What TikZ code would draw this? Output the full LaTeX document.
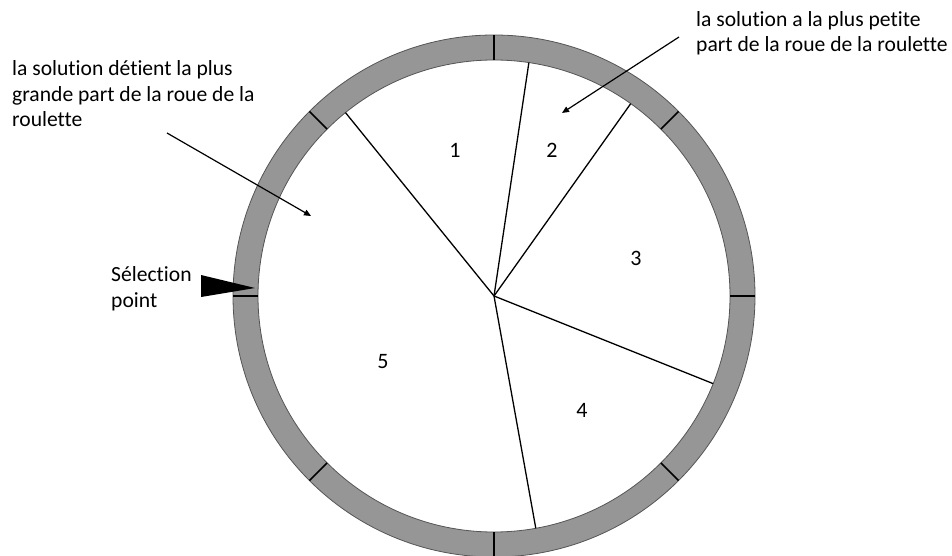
\documentclass[tikz,border=0pt]{standalone}
\usepackage{fontspec}
\setmainfont[Ligatures=NoCommon]{Carlito}
\usetikzlibrary{arrows.meta,calc}
\definecolor{ringgray}{HTML}{969696}
\definecolor{ringedge}{HTML}{555555}
\tikzset{
  lbl/.style={font=\fontsize{21.6}{25.8}\selectfont, inner sep=0pt, align=left},
  num/.style={font=\fontsize{22}{26}\selectfont, inner sep=0pt},
  spoke/.style={line width=1.3pt, black},
  tick/.style={line width=1.6pt, black},
  callout/.style={line width=1.2pt, -{Triangle[length=7pt,width=6pt]}},
}
\begin{document}
\begin{tikzpicture}[x=1pt,y=1pt]
\useasboundingbox (0,0) rectangle (952,555);
\clip (0,0) rectangle (952,555);
\coordinate (c) at (494,259);
% ring
\fill[ringgray, even odd rule] (c) circle (261) (c) circle (236);
\draw[ringedge, line width=0.8pt] (c) circle (261);
\draw[ringedge, line width=0.8pt] (c) circle (236);
\foreach \a in {0,45,...,315}{
  \draw[tick] ($(c)+(\a:236)$) -- ($(c)+(\a:261)$);
}
% spokes
\foreach \a/\n in {81.5/s1,54.6/s2,-21.8/s3,-79.8/s4,129/s5}{
  \coordinate (\n) at ($(c)+(\a:236)$);
  \draw[spoke] (c) -- (\n);
}
% numbers
\node[num] (n1) at (455,405) {1};
\node[num] (n2) at (552,405) {2};
\node[num] (n3) at (636,297) {3};
\node[num] (n4) at (582,145) {4};
\node[num] (n5) at (383,193) {5};
% selection pointer
\node[lbl, anchor=base west] (sel) at (111,248) {Sélection\\point};
\fill[black] (201,280) -- (255,267) -- (201,258) -- cycle;
% callouts
\node[lbl, anchor=base west] (t1) at (12,428) {la solution détient la plus\\grande part de la roue de la\\roulette};
\coordinate (a1s) at (167,422);
\coordinate (a1e) at (311,339);
\draw[callout] (a1s) -- (a1e);
\node[lbl, anchor=base west] (t2) at (696,503) {la solution a la plus petite\\part de la roue de la roulette};
\coordinate (a2s) at (679,518);
\coordinate (a2e) at (562,442);
\draw[callout] (a2s) -- (a2e);
\end{tikzpicture}
\end{document}
